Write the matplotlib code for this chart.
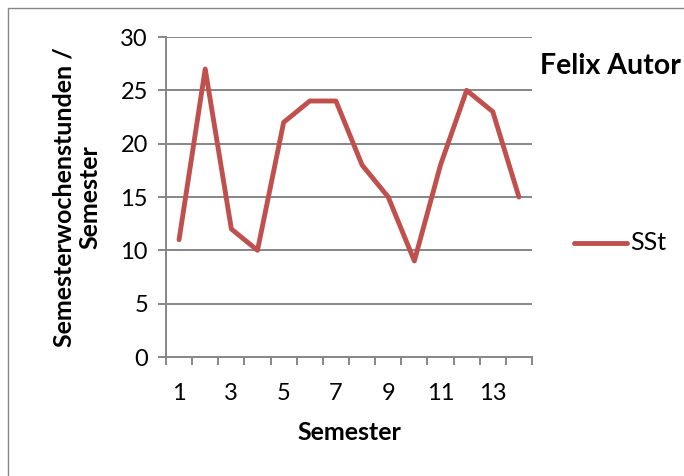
import matplotlib
matplotlib.use("Agg")
import matplotlib.pyplot as plt
from matplotlib.patches import Rectangle
from matplotlib.lines import Line2D

semesters = list(range(1, 15))
sst = [11, 27, 12, 10, 22, 24, 24, 18, 15, 9, 18, 25, 23, 15]
tick_labels = ["1", "3", "5", "7", "9", "11", "13"]
yticks = [0, 5, 10, 15, 20, 25, 30]

plt.rcParams['font.family'] = ['Lato', 'DejaVu Sans']

fig = plt.figure(figsize=(6.84, 4.76), dpi=100)
W, H = 684, 476
ax = fig.add_axes([166 / W, 1 - 357 / H, (532 - 166) / W, (357 - 37) / H])

grid_c = "#868686"
line_c = "#C0504D"

for y in yticks[1:]:
    ax.axhline(y, color=grid_c, lw=1.4, zorder=1)

ax.plot(semesters, sst, color=line_c, lw=3.5, solid_joinstyle='round',
        solid_capstyle='round', zorder=3)

ax.set_xlim(0.5, 14.5)
ax.set_ylim(0, 30)
ax.set_yticks(yticks)
ax.set_yticklabels([str(v) for v in yticks], fontsize=17)

ax.set_xticks([i + 0.5 for i in range(0, 15)])
ax.set_xticklabels([])
ax.set_xticks([1, 3, 5, 7, 9, 11, 13], minor=True)
ax.set_xticklabels(tick_labels, minor=True, fontsize=17)
ax.tick_params(axis='x', which='major', length=6, width=1.4, color=grid_c, direction='out')
ax.tick_params(axis='x', which='minor', length=0, pad=19)
ax.tick_params(axis='y', length=6, width=1.4, color=grid_c, pad=7)

for s in ['top', 'right']:
    ax.spines[s].set_visible(False)
for s in ['left', 'bottom']:
    ax.spines[s].set_color(grid_c)
    ax.spines[s].set_linewidth(1.4)

ax.set_xlabel("Semester", fontsize=18, fontweight='bold', labelpad=12)
ax.set_ylabel("Semesterwochenstunden /\nSemester", fontsize=18, fontweight='bold',
              linespacing=1.15)
ax.yaxis.set_label_coords((101 - 166) / 366, 0.5)

fig.text(540 / W, 1 - 66 / H, "Felix Autor", fontsize=20.5, fontweight='bold',
         va='center', ha='left')

fig.add_artist(Line2D([574 / W, 627 / W], [1 - 243 / H, 1 - 243 / H], color=line_c,
                      lw=3.5, solid_capstyle='round'))
fig.text(630 / W, 1 - 243 / H, "SSt", fontsize=18, va='center', ha='left')

fig.add_artist(Rectangle((8 / W, -0.1), 1.2, 1 - 8 / H + 0.1, transform=fig.transFigure,
                         fill=False, edgecolor="#868686", lw=1.0))

fig.savefig("out.png", dpi=100)
